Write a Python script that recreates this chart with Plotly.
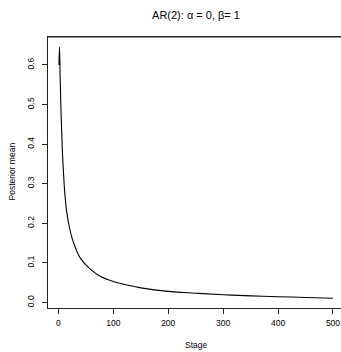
import plotly.graph_objects as go

# Data
stage = [1, 2, 3, 4, 5, 6, 7, 8, 9, 10, 12, 15, 20, 25, 30, 35, 40, 50, 60, 75,
         100, 125, 150, 200, 250, 300, 350, 400, 450, 500]
post_mean = [0.600, 0.645, 0.580, 0.520, 0.470, 0.430, 0.390, 0.360, 0.335, 0.310,
             0.270, 0.230, 0.190, 0.162, 0.142, 0.125, 0.112, 0.095, 0.082, 0.067,
             0.053, 0.044, 0.037, 0.028, 0.0235, 0.0195, 0.0168, 0.0147, 0.0127, 0.0108]
x_ticks = [0, 100, 200, 300, 400, 500]
y_ticks = [0.0, 0.1, 0.2, 0.3, 0.4, 0.5, 0.6]
y_tick_text = ["0.0", "0.1", "0.2", "0.3", "0.4", "0.5", "0.6"]

FONT = "Liberation Sans, Arial, Helvetica, sans-serif"
W, H = 341, 352
L, R, T, B = 48, 0, 37, 44
PW, PH = W - L - R, H - T - B


def px_x(px):
    return (px - L) / PW


def px_y(py):
    return (H - B - py) / PH


fig = go.Figure()
fig.add_trace(go.Scatter(x=stage, y=post_mean, mode="lines",
                         line=dict(color="black", width=1.1, shape="spline", smoothing=1.0),
                         showlegend=False, hoverinfo="skip"))

fig.update_layout(
    template="none",
    width=W, height=H,
    margin=dict(l=L, r=R, t=T, b=B, pad=0),
    paper_bgcolor="white", plot_bgcolor="white",
    font=dict(family=FONT, color="black", size=9),
    title=dict(text="AR(2): α = 0, β= 1", x=196/W, xanchor="center", xref="container",
               y=1 - 15/H, yanchor="middle", yref="container",
               font=dict(size=11, family=FONT, color="black")),
    xaxis=dict(range=[-18.96, 514.6], tickvals=x_ticks, ticks="outside", ticklen=5,
               tickwidth=1, tickcolor="#222", showline=True, linecolor="#222", linewidth=1,
               mirror=True, showgrid=False, zeroline=False, ticklabeloverflow="allow",
               automargin=False, ticklabelstandoff=2,
               tickfont=dict(size=8.5, family=FONT)),
    yaxis=dict(range=[-0.0139, 0.6705], tickvals=y_ticks, ticktext=y_tick_text,
               ticks="outside", ticklen=5, tickwidth=1, tickcolor="#222",
               showline=True, linecolor="#222", linewidth=1, mirror=False,
               showgrid=False, zeroline=False, tickangle=-90, ticklabelstandoff=5,
               ticklabeloverflow="allow", automargin=False,
               tickfont=dict(size=8.5, family=FONT)),
    shapes=[dict(type="line", xref="paper", yref="paper", x0=0, x1=1, y0=1, y1=1,
                 line=dict(color="#222", width=1))],
    annotations=[
        dict(text="Stage", x=px_x(196), y=px_y(345), xref="paper", yref="paper",
             xanchor="center", yanchor="middle", showarrow=False,
             font=dict(size=8.5, family=FONT, color="black")),
        dict(text="Posterior mean", x=px_x(11.5), y=px_y(172), xref="paper", yref="paper",
             xanchor="center", yanchor="middle", showarrow=False, textangle=-90,
             font=dict(size=8.5, family=FONT, color="black")),
    ],
)

fig.write_html("out.html",
               config={"displayModeBar": False, "staticPlot": True},
               post_script="document.body.style.margin='0';"
                           "document.body.style.overflow='hidden';")
